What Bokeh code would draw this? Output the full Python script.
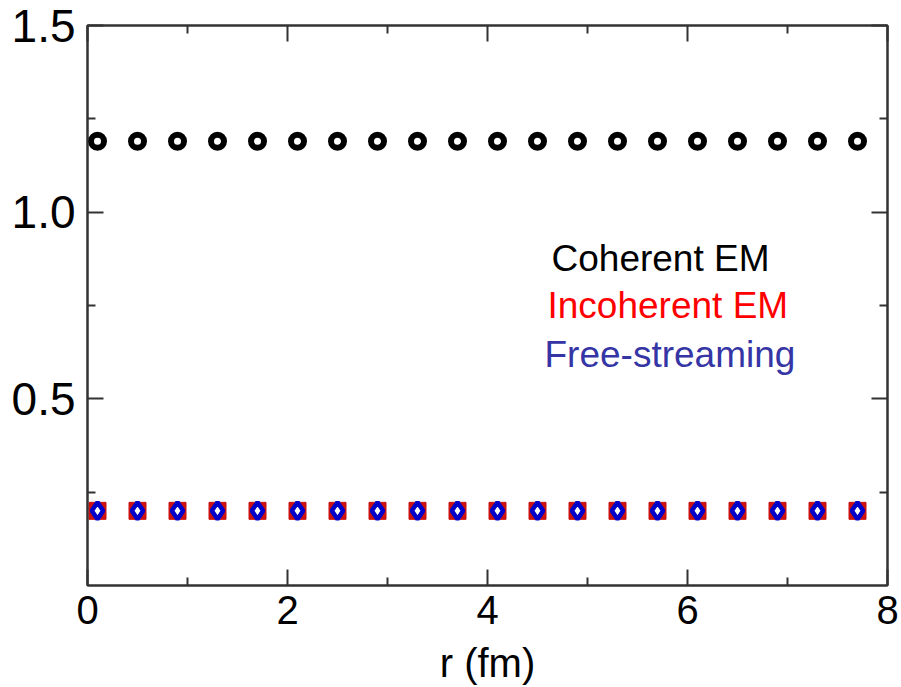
from bokeh.plotting import figure
from bokeh.models import LinearAxis, FixedTicker, Range1d, ColumnDataSource, NumeralTickFormatter
from bokeh.core.properties import value
from bokeh.embed import file_html
from bokeh.resources import INLINE

# ---- data ----
r = [0.1, 0.5, 0.9, 1.3, 1.7, 2.1, 2.5, 2.9, 3.3, 3.7,
     4.1, 4.5, 4.9, 5.3, 5.7, 6.1, 6.5, 6.9, 7.3, 7.7]
coherent = [1.19, 1.19, 1.19, 1.19, 1.19, 1.19, 1.19, 1.19, 1.19, 1.19,
            1.19, 1.19, 1.19, 1.19, 1.19, 1.19, 1.19, 1.19, 1.19, 1.19]
incoherent = [0.20, 0.20, 0.20, 0.20, 0.20, 0.20, 0.20, 0.20, 0.20, 0.20,
              0.20, 0.20, 0.20, 0.20, 0.20, 0.20, 0.20, 0.20, 0.20, 0.20]
free_streaming = [0.20, 0.20, 0.20, 0.20, 0.20, 0.20, 0.20, 0.20, 0.20, 0.20,
                  0.20, 0.20, 0.20, 0.20, 0.20, 0.20, 0.20, 0.20, 0.20, 0.20]

x_major = [0, 2, 4, 6, 8]
x_minor = [1, 3, 5, 7]
y_major = [0.5, 1.0, 1.5]
y_minor = [0.25, 0.75, 1.25]

legend_names = ["Coherent EM", "Incoherent EM", "Free-streaming"]
legend_colors = ["#000000", "#ff0000", "#3535a5"]
legend_x = [4.64, 4.60, 4.57]
legend_y = [0.876, 0.750, 0.619]

FONT = "Liberation Sans"

p = figure(width=901, height=687, output_backend="svg", toolbar_location=None,
           x_range=Range1d(0, 8), y_range=Range1d(0, 1.5),
           min_border_left=87, min_border_right=14,
           min_border_top=25, min_border_bottom=102)
p.grid.visible = False
p.outline_line_color = "#333333"
p.outline_line_width = 2
p.background_fill_color = "white"
p.border_fill_color = "white"

def style_axis(ax, major, minor, show_labels, font_size):
    ax.ticker = FixedTicker(ticks=major, minor_ticks=minor)
    ax.major_tick_in = 16
    ax.major_tick_out = 0
    ax.minor_tick_in = 8
    ax.minor_tick_out = 0
    ax.major_tick_line_color = "#333333"
    ax.minor_tick_line_color = "#333333"
    ax.major_tick_line_width = 2
    ax.minor_tick_line_width = 2
    ax.axis_line_color = "#333333"
    ax.axis_line_width = 2
    if show_labels:
        ax.major_label_text_font = FONT
        ax.major_label_text_font_size = font_size
        ax.major_label_text_color = "black"
    else:
        ax.major_label_overrides = {t: "" for t in major}
        ax.major_label_text_font_size = "1px"
        ax.major_label_standoff = 0

xa = p.xaxis[0]
style_axis(xa, x_major, x_minor, True, "40px")
xa.major_label_standoff = 10
xa.axis_label = "r (fm)"
xa.axis_label_text_font = FONT
xa.axis_label_text_font_size = "40px"
xa.axis_label_text_font_style = "normal"
xa.axis_label_text_color = "black"
xa.axis_label_standoff = 14

ya = p.yaxis[0]
style_axis(ya, y_major, y_minor, True, "46px")
ya.major_label_standoff = 12
ya.formatter = NumeralTickFormatter(format="0.0")

right = LinearAxis()
style_axis(right, y_major, y_minor, False, "1px")
p.add_layout(right, "right")
top = LinearAxis()
style_axis(top, x_major, x_minor, False, "1px")
p.add_layout(top, "above")

src = ColumnDataSource(dict(r=r, coherent=coherent, incoherent=incoherent,
                            free=free_streaming))

p.scatter("r", "coherent", source=src, marker="circle", size=13,
          fill_color="white", line_color="black", line_width=6)
p.scatter("r", "incoherent", source=src, marker="square", size=17,
          fill_color="#cc1111", line_color="#cc1111", line_width=1)
p.scatter("r", "free", source=src, marker="diamond", size=17,
          fill_color="white", line_color="#0000c8", line_width=4.5)

lsrc = ColumnDataSource(dict(x=legend_x, y=legend_y, t=legend_names,
                             c=legend_colors))
p.text("x", "y", text="t", source=lsrc, text_color="c",
       text_font=value(FONT), text_font_size="37px",
       text_baseline="alphabetic", text_align="left")

open("out.html", "w").write(file_html(p, INLINE))
